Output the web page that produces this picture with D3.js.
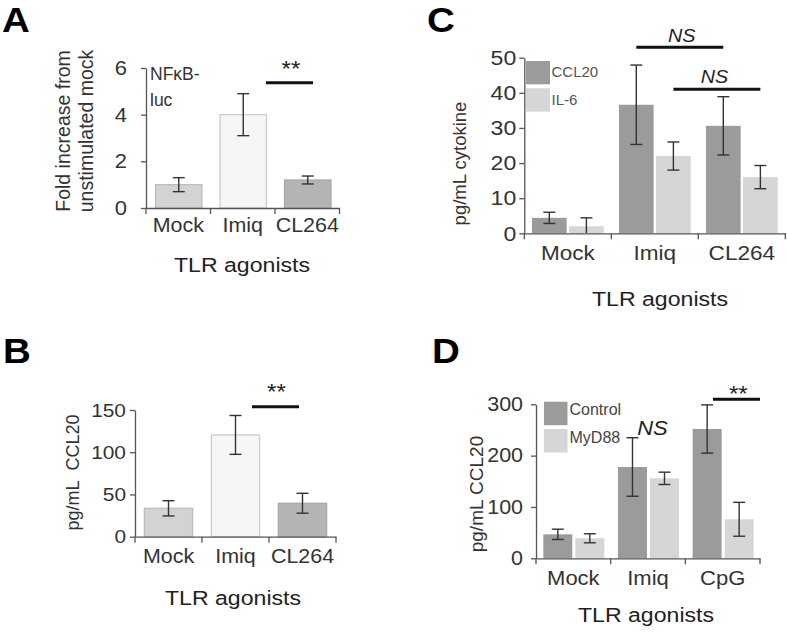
<!DOCTYPE html>
<html><head><meta charset="utf-8">
<script src="https://cdn.jsdelivr.net/npm/d3@7"></script>
<style>body{margin:0;background:#fff} text{font-family:"Liberation Sans",Arial,sans-serif}</style>
</head><body>
<svg id="chart" width="787" height="632"></svg>
<script>
// ---------- data ----------
const catsAB = ["Mock","Imiq","CL264"];
const aValues = [1.0, 4.0, 1.2];
const aErrors = [0.3, 0.9, 0.17];
const aTicks = [0, 2, 4, 6];
const bValues = [33.6, 120.5, 39.6];
const bErrors = [9, 23, 11.8];
const bTicks = [0, 50, 100, 150];
const catsC = ["Mock","Imiq","CL264"];
const seriesC = ["CCL20","IL-6"];
const cCCL20 = [4.4, 36.6, 30.6];
const cCCL20Err = [1.6, 11.3, 8.3];
const cIL6 = [2.0, 22.0, 16.0];
const cIL6Err = [2.4, 4.0, 3.3];
const cTicks = [0, 10, 20, 30, 40, 50];
const catsD = ["Mock","Imiq","CpG"];
const seriesD = ["Control","MyD88"];
const dControl = [46.7, 177.9, 251.9];
const dControlErr = [10, 57, 47];
const dMyD88 = [39, 155.8, 76];
const dMyD88Err = [8.8, 12, 33];
const dTicks = [0, 100, 200, 300];

// ---------- styles ----------
const abFills = ["#d3d3d3", "#f6f6f6", "#b4b4b4"];
const abStrokes = ["#bdbdbd", "#cdcdcd", "#a9a9a9"];
const seriesFills = ["#9b9b9b", "#d6d6d6"];
const axisColor = "#555";
const tickText = "#333";
const errColor = "#333";
const SX = 1.1;

const svg = d3.select("#chart");

function label(x, y, txt, o = {}) {
  const t = svg.append("text")
    .attr("transform", `translate(${x},${y}) ${o.rot ? "rotate(-90)" : ""} scale(${o.sx || 1},1)`)
    .attr("text-anchor", o.anchor || "middle")
    .attr("font-size", o.size || 20)
    .attr("fill", o.fill || "#222")
    .text(txt);
  if (o.bold) t.attr("font-weight", "bold");
  if (o.italic) t.attr("font-style", "italic");
  return t;
}

function axes(x, y, ticks, o) {
  const y0 = y.range()[0];
  const yg = svg.append("g").attr("transform", `translate(${x.range()[0]},0)`)
    .call(d3.axisLeft(y).tickValues(ticks).tickFormat(d3.format("d"))
      .tickSize(5).tickSizeOuter(0).tickPadding(o.yPad));
  yg.select(".domain").attr("stroke", axisColor).attr("stroke-width", 1.3);
  yg.selectAll(".tick line").attr("stroke", axisColor).attr("stroke-width", 1.3);
  yg.selectAll("text").attr("font-size", o.yFont).attr("fill", tickText)
    .attr("font-family", '"Liberation Sans",Arial,sans-serif')
    .attr("x", -(5 + o.yPad) / SX).attr("transform", `scale(${SX},1)`);

  const xg = svg.append("g").attr("transform", `translate(0,${y0})`)
    .call(d3.axisBottom(x).tickSize(0).tickSizeOuter(0).tickPadding(o.xPad));
  xg.select(".domain").attr("stroke", axisColor).attr("stroke-width", 1.3);
  xg.selectAll("text").attr("font-size", o.xFont).attr("fill", tickText)
    .attr("font-family", '"Liberation Sans",Arial,sans-serif')
    .attr("transform", `scale(${SX},1)`);
  const bounds = x.domain().map(c => x(c)).concat([x.range()[1]]);
  svg.append("g").selectAll("line").data(bounds).join("line")
    .attr("x1", d => d).attr("x2", d => d).attr("y1", y0).attr("y2", y0 + 6)
    .attr("stroke", axisColor).attr("stroke-width", 1.3);
}

function errBar(cx, y, v, e, cap = 6) {
  const top = y(v + e);
  const lo = v - e;
  const bot = y(Math.max(lo, 0));
  const g = svg.append("g").attr("stroke", errColor).attr("stroke-width", 1.4);
  g.append("line").attr("x1", cx).attr("x2", cx).attr("y1", top).attr("y2", bot);
  g.append("line").attr("x1", cx - cap).attr("x2", cx + cap).attr("y1", top).attr("y2", top);
  if (lo >= 0) g.append("line").attr("x1", cx - cap).attr("x2", cx + cap).attr("y1", bot).attr("y2", bot);
}

function sigLine(x1, x2, yy) {
  svg.append("line").attr("x1", x1).attr("x2", x2).attr("y1", yy).attr("y2", yy)
    .attr("stroke", "#111").attr("stroke-width", 3);
}

// ---------- Panel A ----------
{
  const x = d3.scaleBand().domain(catsAB).range([146, 339.5]);
  const y = d3.scaleLinear().domain([0, 6]).range([208, 68]);
  const bw = x.bandwidth() * 0.72;
  svg.append("g").selectAll("rect").data(catsAB).join("rect")
    .attr("x", c => x(c) + (x.bandwidth() - bw) / 2 + 0.5)
    .attr("width", bw)
    .attr("y", (c, i) => y(aValues[i]))
    .attr("height", (c, i) => y(0) - y(aValues[i]))
    .attr("fill", (c, i) => abFills[i]).attr("stroke", (c, i) => abStrokes[i]).attr("stroke-width", 1.3);
  catsAB.forEach((c, i) => errBar(x(c) + x.bandwidth() / 2 + 0.5, y, aValues[i], aErrors[i]));
  axes(x, y, aTicks, {yPad: 14, yFont: 20, xPad: 10, xFont: 19.5});
  sigLine(x("Imiq") + x.bandwidth() * 0.86, x("CL264") + x.bandwidth() * 0.59, y(5.37));
  label(x("CL264") + 16, 76, "**", {size: 22, sx: SX, fill: "#222"});
  label(150, 80, "NF\u03BAB-", {anchor: "start", size: 17.5, fill: "#333"});
  label(150, 106, "luc", {anchor: "start", size: 17.5, fill: "#333"});
  label(70, 131, "Fold increase from", {rot: true, size: 19.5, fill: "#333"});
  label(93, 131, "unstimulated mock", {rot: true, size: 19.5, fill: "#333"});
  label(242, 272, "TLR agonists", {size: 21, sx: SX});
  label(2, 32, "A", {anchor: "start", size: 35, bold: true, sx: SX, fill: "#000"});
}

// ---------- Panel B ----------
{
  const x = d3.scaleBand().domain(catsAB).range([135, 336]);
  const y = d3.scaleLinear().domain([0, 150]).range([536.7, 410]);
  const bw = x.bandwidth() * 0.72;
  svg.append("g").selectAll("rect").data(catsAB).join("rect")
    .attr("x", c => x(c) + (x.bandwidth() - bw) / 2)
    .attr("width", bw)
    .attr("y", (c, i) => y(bValues[i]))
    .attr("height", (c, i) => y(0) - y(bValues[i]))
    .attr("fill", (c, i) => abFills[i]).attr("stroke", (c, i) => abStrokes[i]).attr("stroke-width", 1.3);
  catsAB.forEach((c, i) => errBar(x(c) + x.bandwidth() / 2, y, bValues[i], bErrors[i]));
  axes(x, y, bTicks, {yPad: 4, yFont: 19, xPad: 12, xFont: 19.5});
  sigLine(x("Imiq") + x.bandwidth() * 0.746, x("CL264") + x.bandwidth() * 0.448, y(153.7));
  label(x("CL264") + 7.5, y(163), "**", {size: 22, sx: SX});
  label(79, 472.5, "pg/mL\u00A0\u00A0CCL20", {rot: true, size: 18, fill: "#333"});
  label(233, 605, "TLR agonists", {size: 21, sx: SX});
  label(3, 363, "B", {anchor: "start", size: 35, bold: true, sx: SX, fill: "#000"});
}

// ---------- Panel C ----------
{
  const x0 = d3.scaleBand().domain(catsC).range([524.3, 785.3]);
  const x1 = d3.scaleBand().domain(seriesC)
    .range([x0.bandwidth() * 0.088, x0.bandwidth() * 0.913]).paddingInner(0.065);
  const y = d3.scaleLinear().domain([0, 50]).range([233.3, 57.7]);
  const vals = [cCCL20, cIL6], errs = [cCCL20Err, cIL6Err];
  seriesC.forEach((s, si) => {
    svg.append("g").selectAll("rect").data(catsC).join("rect")
      .attr("x", c => x0(c) + x1(s)).attr("width", x1.bandwidth())
      .attr("y", (c, i) => y(vals[si][i]))
      .attr("height", (c, i) => y(0) - y(vals[si][i]))
      .attr("fill", seriesFills[si]);
  });
  seriesC.forEach((s, si) => catsC.forEach((c, i) =>
    errBar(x0(c) + x1(s) + x1.bandwidth() / 2, y, vals[si][i], errs[si][i])));
  axes(x0, y, cTicks, {yPad: 3, yFont: 21, xPad: 12, xFont: 20.5});
  const ctr = (c, s) => x0(c) + x1(s) + x1.bandwidth() / 2;
  sigLine(ctr("Imiq", "CCL20"), ctr("CL264", "CCL20"), y(53));
  label(681.7, 41.7, "NS", {italic: true, size: 18, sx: SX});
  sigLine(ctr("Imiq", "IL-6"), ctr("CL264", "IL-6"), y(41));
  label(714.5, 83.3, "NS", {italic: true, size: 18, sx: SX});
  // legend
  seriesC.forEach((s, i) => {
    svg.append("rect").attr("x", 526).attr("y", 61 + i * 27.3).attr("width", 24).attr("height", 23.3)
      .attr("fill", seriesFills[i]);
    label(551.5, 77.3 + i * 27.7, s, {anchor: "start", size: 15, fill: "#555"});
  });
  label(466, 163.5, "pg/mL cytokine", {rot: true, size: 18.5, fill: "#333"});
  label(660, 306, "TLR agonists", {size: 21, sx: SX});
  label(427, 32, "C", {anchor: "start", size: 35, bold: true, sx: SX, fill: "#000"});
}

// ---------- Panel D ----------
{
  const x0 = d3.scaleBand().domain(catsD).range([536, 760]);
  const x1 = d3.scaleBand().domain(seriesD)
    .range([x0.bandwidth() * 0.098, x0.bandwidth() * 0.915]).paddingInner(0.094);
  const y = d3.scaleLinear().domain([0, 300]).range([558.3, 404.3]);
  const vals = [dControl, dMyD88], errs = [dControlErr, dMyD88Err];
  seriesD.forEach((s, si) => {
    svg.append("g").selectAll("rect").data(catsD).join("rect")
      .attr("x", c => x0(c) + x1(s)).attr("width", x1.bandwidth())
      .attr("y", (c, i) => y(vals[si][i]))
      .attr("height", (c, i) => y(0) - y(vals[si][i]))
      .attr("fill", seriesFills[si]);
  });
  seriesD.forEach((s, si) => catsD.forEach((c, i) =>
    errBar(x0(c) + x1(s) + x1.bandwidth() / 2, y, vals[si][i], errs[si][i])));
  axes(x0, y, dTicks, {yPad: 8, yFont: 19.5, xPad: 13, xFont: 20});
  sigLine(x0("CpG") + x0.bandwidth() * 0.37, x0("CpG") + x0.bandwidth(), y(310));
  label(738.3, y(306.5), "**", {size: 22, sx: SX});
  label(652.5, 435, "NS", {italic: true, size: 20, sx: SX});
  seriesD.forEach((s, i) => {
    svg.append("rect").attr("x", 544).attr("y", 401.7 + i * 27.3).attr("width", 23.5).attr("height", 23.5)
      .attr("fill", seriesFills[i]);
    label(569.5, 415 + i * 28.3, s, {anchor: "start", size: 16, fill: "#444"});
  });
  label(482.7, 494, "pg/mL CCL20", {rot: true, size: 19, fill: "#333"});
  label(646, 621.7, "TLR agonists", {size: 21, sx: SX});
  label(432, 363, "D", {anchor: "start", size: 35, bold: true, sx: SX, fill: "#000"});
}
</script>
</body></html>
